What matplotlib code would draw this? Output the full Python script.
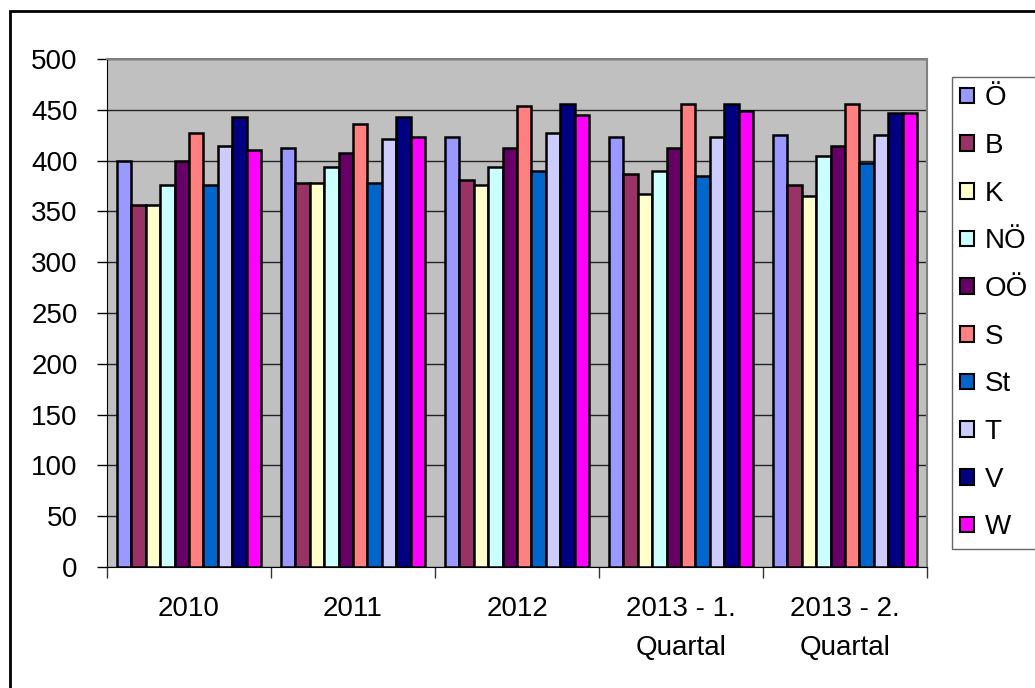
import matplotlib
matplotlib.use("Agg")
import matplotlib.pyplot as plt
import numpy as np
from matplotlib.patches import Rectangle

categories = ["2010", "2011", "2012", "2013 - 1.\nQuartal", "2013 - 2.\nQuartal"]
series_names = ["Ö", "B", "K", "NÖ", "OÖ", "S", "St", "T", "V", "W"]
values = {
    "Ö":  [400, 412, 423, 423, 425],
    "B":  [356, 378, 381, 387, 376],
    "K":  [356, 378, 376, 367, 365],
    "NÖ": [376, 394, 394, 390, 405],
    "OÖ": [400, 407, 412, 412, 414],
    "S":  [427, 436, 454, 456, 456],
    "St": [376, 378, 390, 385, 398],
    "T":  [414, 421, 427, 423, 425],
    "V":  [443, 443, 456, 456, 447],
    "W":  [410, 423, 445, 449, 447],
}
colors = ["#9999FF", "#993366", "#FFFFCC", "#CCFFFF", "#660066",
          "#FF8080", "#0066CC", "#CCCCFF", "#000080", "#FF00FF"]
yticks = list(range(0, 501, 50))

plt.rcParams['font.family'] = ['Liberation Sans', 'DejaVu Sans']
W, H = 1035, 688
fig = plt.figure(figsize=(W / 100, H / 100), dpi=100)
ax = fig.add_axes([107 / W, 1 - 567 / H, (927 - 107) / W, (567 - 59) / H])
ax.set_facecolor("#C0C0C0")

n = len(series_names)
group_w = 0.878
bw = group_w / n
x = np.arange(len(categories))
for i, name in enumerate(series_names):
    ax.bar(x - group_w / 2 + bw * (i + 0.5), values[name], width=bw,
           color=colors[i], edgecolor="black", linewidth=1.8, label=name, zorder=3)

ax.set_xlim(-0.5, len(categories) - 0.5)
ax.set_ylim(0, 500)
ax.set_yticks(yticks)
ax.tick_params(axis="y", labelsize=20, length=7, direction="out", pad=14, width=1)
ax.yaxis.grid(True, color="#222222", linewidth=1.0, zorder=1)
ax.set_axisbelow(True)

ax.set_xticks(np.arange(len(categories) + 1) - 0.5)
ax.set_xticklabels([])
ax.set_xticks(x, minor=True)
ax.set_xticklabels(categories, minor=True, fontsize=20, linespacing=1.62, va="top")
ax.tick_params(axis="x", which="major", length=8, width=1, color="#333333")
ax.tick_params(axis="x", which="minor", length=0, pad=21)

for s in ["top", "right"]:
    ax.spines[s].set_color("#808080")
    ax.spines[s].set_linewidth(1.5)
ax.spines["left"].set_color("black")
ax.spines["bottom"].set_color("black")

leg = fig.legend(loc="upper left", bbox_to_anchor=(952 / W, 1 - 77 / H),
                 fontsize=20, frameon=True, fancybox=False, edgecolor="#404040",
                 handlelength=0.48, handleheight=0.48, handletextpad=0.4,
                 labelspacing=0.78, borderpad=0.3, borderaxespad=0)
leg.get_frame().set_linewidth(1.0)
for h in leg.legend_handles:
    h.set_linewidth(1.5)

fig.patches.append(Rectangle((10 / W, 1 - 700 / H), 1100 / W, (700 - 11) / H,
                             transform=fig.transFigure, fill=False,
                             edgecolor="black", linewidth=2.0))

fig.savefig("out.png", dpi=100)
